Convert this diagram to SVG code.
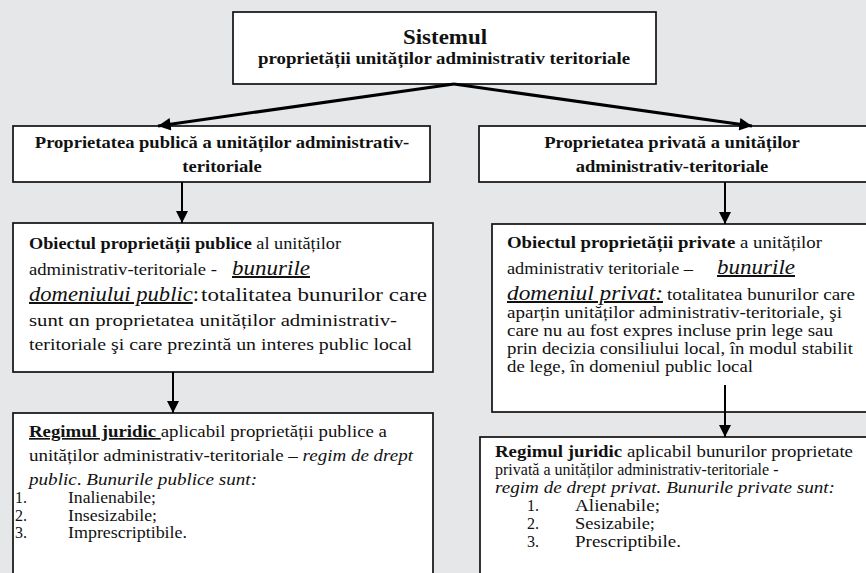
<svg xmlns="http://www.w3.org/2000/svg" width="866" height="573" viewBox="0 0 866 573" font-family="'Liberation Serif', Tinos, 'Times New Roman', 'DejaVu Serif', serif">
  <defs>
    <marker id="head" viewBox="0 0 10 10" refX="10" refY="5" markerWidth="4.4" markerHeight="4.2" markerUnits="strokeWidth" orient="auto">
      <path d="M0,0 L10,5 L0,10 z" fill="#000"/>
    </marker>
    <marker id="headv" viewBox="0 0 10 10" refX="10" refY="5" markerWidth="6" markerHeight="6" markerUnits="strokeWidth" orient="auto">
      <path d="M0,0 L10,5 L0,10 z" fill="#000"/>
    </marker>
    <style>
      .box { fill: #fff; stroke: #111; stroke-width: 1.7; }
      text { fill: #111; }
      .hd { font-weight: bold; font-size: 16px; text-anchor: middle; }
      .tx { font-size: 16.5px; }
      .li { font-size: 16px; }
      .b { font-weight: bold; }
      .i { font-style: italic; }
      .big { font-style: italic; font-size: 20px; text-decoration: underline; }
      .u { text-decoration: underline; }
      .con { stroke: #000; fill: none; }
    </style>
  </defs>

  <rect x="0" y="0" width="866" height="573" fill="#e6e7e9"/>

  <!-- top node -->
  <g id="sistem">
    <rect class="box" x="233" y="12" width="423" height="72"/>
    <text x="445" y="44" class="hd" style="font-size:21px" textLength="84" lengthAdjust="spacingAndGlyphs">Sistemul</text>
    <text x="444" y="64" class="hd" textLength="372" lengthAdjust="spacingAndGlyphs">proprietății unităților administrativ teritoriale</text>
  </g>

  <!-- public property -->
  <g id="prop-publica">
    <rect class="box" x="13" y="126" width="417" height="56"/>
    <g transform="translate(222,0) scale(1.16,1)">
      <text x="0" y="148" class="hd">Proprietatea publică a unităților administrativ-</text>
      <text x="0" y="172" class="hd">teritoriale</text>
    </g>
  </g>

  <!-- private property -->
  <g id="prop-privata">
    <rect class="box" x="479" y="126" width="400" height="56"/>
    <g transform="translate(672,0) scale(1.16,1)">
      <text x="0" y="148" class="hd">Proprietatea privată a unităților</text>
      <text x="0" y="172" class="hd">administrativ-teritoriale</text>
    </g>
  </g>

  <!-- object of public property -->
  <g id="obiect-public">
    <rect class="box" x="13" y="223" width="420" height="149"/>
    <text class="tx" x="29" y="249" textLength="312" lengthAdjust="spacingAndGlyphs"><tspan class="b">Obiectul proprietății publice</tspan> al unităților</text>
    <text class="tx" x="29" y="275" textLength="188" lengthAdjust="spacingAndGlyphs">administrativ-teritoriale  -</text>
    <text class="tx" x="232" y="275" textLength="78" lengthAdjust="spacingAndGlyphs"><tspan class="big">bunurile</tspan></text>
    <text class="tx" x="29" y="301" textLength="170" lengthAdjust="spacingAndGlyphs"><tspan class="big">domeniului public</tspan><tspan style="font-size:20px">:</tspan></text>
    <text class="tx" x="201" y="301" style="font-size:18px" textLength="226" lengthAdjust="spacingAndGlyphs">totalitatea bunurilor care</text>
    <text class="tx" x="29" y="326" style="font-size:17px" textLength="368" lengthAdjust="spacingAndGlyphs">sunt ɑn proprietatea unităților administrativ-</text>
    <text class="tx" x="29" y="350" style="font-size:17px" textLength="383" lengthAdjust="spacingAndGlyphs">teritoriale şi care prezintă un interes public local</text>
  </g>

  <!-- object of private property -->
  <g id="obiect-privat">
    <rect class="box" x="492" y="224" width="390" height="188"/>
    <text class="tx" x="507" y="248" textLength="315" lengthAdjust="spacingAndGlyphs"><tspan class="b">Obiectul proprietății private</tspan> a unităților</text>
    <text class="tx" x="507" y="274" textLength="186" lengthAdjust="spacingAndGlyphs">administrativ teritoriale –</text>
    <text class="tx" x="717" y="274" textLength="78" lengthAdjust="spacingAndGlyphs"><tspan class="big">bunurile</tspan></text>
    <text class="tx" x="507" y="300" textLength="156" lengthAdjust="spacingAndGlyphs"><tspan class="big">domeniul privat:</tspan></text>
    <text class="tx" x="667" y="300" textLength="188" lengthAdjust="spacingAndGlyphs">totalitatea bunurilor care</text>
    <text class="tx" x="507" y="318" textLength="335" lengthAdjust="spacingAndGlyphs">aparțin unităților administrativ-teritoriale, şi</text>
    <text class="tx" x="507" y="336" textLength="326" lengthAdjust="spacingAndGlyphs">care nu au fost expres incluse prin lege sau</text>
    <text class="tx" x="507" y="354" textLength="346" lengthAdjust="spacingAndGlyphs">prin decizia consiliului local, în modul stabilit</text>
    <text class="tx" x="507" y="372" textLength="246" lengthAdjust="spacingAndGlyphs">de lege, în domeniul public local</text>
  </g>

  <!-- legal regime, public -->
  <g id="regim-public">
    <rect class="box" x="13" y="413" width="420" height="170"/>
    <text class="tx" x="29" y="437" textLength="358" lengthAdjust="spacingAndGlyphs"><tspan class="b u">Regimul juridic </tspan>aplicabil proprietății publice a</text>
    <text class="tx" x="29" y="461" textLength="384" lengthAdjust="spacingAndGlyphs">unităților administrativ-teritoriale – <tspan class="i">regim de drept</tspan></text>
    <text class="tx" x="29" y="485" textLength="228" lengthAdjust="spacingAndGlyphs"><tspan class="i">public</tspan>. <tspan class="i">Bunurile publice sunt:</tspan></text>
    <text class="li" x="15" y="503">1.</text><text class="li" x="68" y="503" textLength="88" lengthAdjust="spacingAndGlyphs">Inalienabile;</text>
    <text class="li" x="15" y="520.5">2.</text><text class="li" x="68" y="520.5" textLength="89" lengthAdjust="spacingAndGlyphs">Insesizabile;</text>
    <text class="li" x="15" y="538">3.</text><text class="li" x="68" y="538" textLength="119" lengthAdjust="spacingAndGlyphs">Imprescriptibile.</text>
  </g>

  <!-- legal regime, private -->
  <g id="regim-privat">
    <rect class="box" x="480" y="437" width="400" height="146"/>
    <text class="tx" x="495" y="457" textLength="358" lengthAdjust="spacingAndGlyphs"><tspan class="b">Regimul juridic</tspan> aplicabil bunurilor proprietate</text>
    <text class="li" x="495" y="475">privată a unităților administrativ-teritoriale -</text>
    <text class="tx i" x="495" y="493" textLength="340" lengthAdjust="spacingAndGlyphs">regim de drept privat. Bunurile private sunt:</text>
    <text class="li" x="527" y="511">1.</text><text class="li" x="575" y="511" textLength="85" lengthAdjust="spacingAndGlyphs">Alienabile;</text>
    <text class="li" x="527" y="529">2.</text><text class="li" x="575" y="529" textLength="80" lengthAdjust="spacingAndGlyphs">Sesizabile;</text>
    <text class="li" x="527" y="547">3.</text><text class="li" x="575" y="547" textLength="106" lengthAdjust="spacingAndGlyphs">Prescriptibile.</text>
  </g>

  <!-- connectors -->
  <g id="connectors">
    <line class="con" x1="454" y1="84" x2="158" y2="126" stroke-width="3" marker-end="url(#head)"/>
    <line class="con" x1="454" y1="84" x2="752" y2="126" stroke-width="3" marker-end="url(#head)"/>
    <line class="con" x1="182" y1="182" x2="182" y2="223" stroke-width="2" marker-end="url(#headv)"/>
    <line class="con" x1="725" y1="182" x2="725" y2="224" stroke-width="2" marker-end="url(#headv)"/>
    <line class="con" x1="173" y1="372" x2="173" y2="413" stroke-width="2" marker-end="url(#headv)"/>
    <line class="con" x1="725" y1="385" x2="725" y2="437" stroke-width="2" marker-end="url(#headv)"/>
  </g>
</svg>
